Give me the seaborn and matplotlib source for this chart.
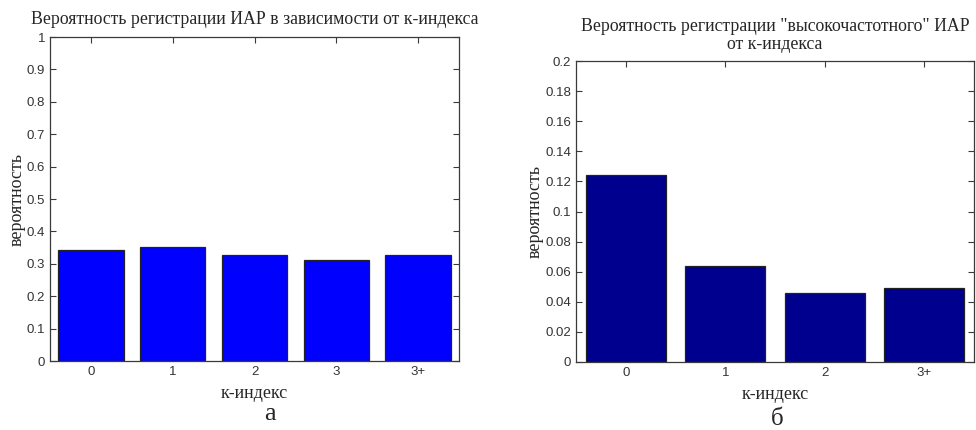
import pandas as pd
import matplotlib.pyplot as plt
import seaborn as sns

# data
k_left = ['0', '1', '2', '3', '3+']
p_left = [0.343, 0.352, 0.328, 0.311, 0.326]
k_right = ['0', '1', '2', '3+']
p_right = [0.124, 0.064, 0.046, 0.0495]

sns.set_style('ticks')
plt.rcParams['font.family'] = ['Liberation Sans', 'DejaVu Sans']

serif = 'Liberation Serif'
edge = '#3a3a3a'

fig = plt.figure(figsize=(9.76, 4.3), dpi=100)
ax1 = fig.add_axes([50 / 976, 69 / 430, 409 / 976, 324 / 430])
ax2 = fig.add_axes([576 / 976, 68 / 430, 398 / 976, 301 / 430])


def draw(ax, cats, vals, color, ymax, yticks, ylabels, title):
    df = pd.DataFrame({'k': cats, 'p': vals})
    sns.barplot(data=df, x='k', y='p', ax=ax, color=color, saturation=1,
                width=0.8, edgecolor='#222222', linewidth=0.9)
    ax.set_xlim(-0.5, len(cats) - 0.5)
    ax.set_ylim(0, ymax)
    ax.set_yticks(yticks)
    ax.set_yticklabels(ylabels)
    ax.tick_params(direction='in', top=True, right=True, labelsize=9.5,
                   colors=edge, labelcolor='#333333', length=4, width=0.8)
    for s in ax.spines.values():
        s.set_color(edge)
        s.set_linewidth(0.9)
    ax.set_xlabel('к-индекс', family=serif, fontsize=13, labelpad=5)
    ax.set_ylabel('вероятность', family=serif, fontsize=13, labelpad=1)
    ax.set_title(title, family=serif, fontsize=12.8, pad=9, linespacing=1.05)


yt1 = [i / 10 for i in range(11)]
draw(ax1, k_left, p_left, '#0000ff', 1, yt1,
     ['0'] + ['%g' % v for v in yt1[1:-1]] + ['1'],
     'Вероятность регистрации ИАР в зависимости от к-индекса')

yt2 = [i * 0.02 for i in range(11)]
draw(ax2, k_right, p_right, '#00008f', 0.2, yt2,
     ['0'] + ['%g' % round(v, 2) for v in yt2[1:]],
     'Вероятность регистрации "высокочастотного" ИАР\nот к-индекса')

# panel letters under the charts
fig.text(270 / 976, 1 - 420 / 430, 'а', ha='center', va='baseline',
         family=serif, fontsize=19)
fig.text(777 / 976, 1 - 425 / 430, 'б', ha='center', va='baseline',
         family=serif, fontsize=18)

fig.savefig('out.png', dpi=100)
